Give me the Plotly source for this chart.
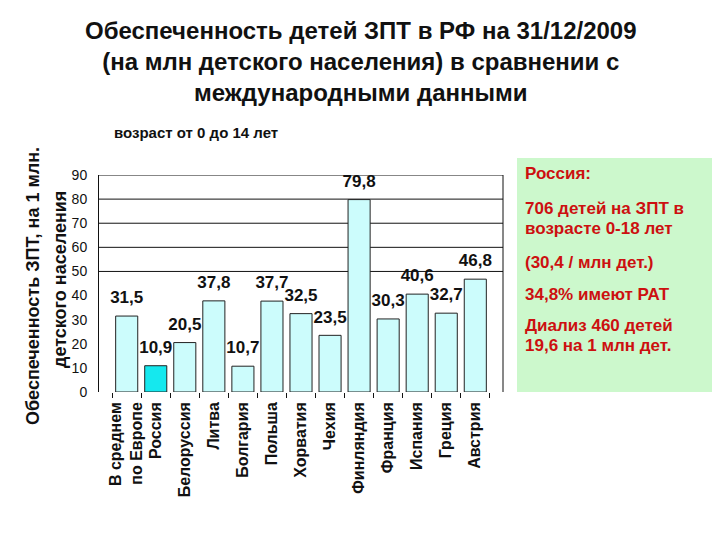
import plotly.graph_objects as go

categories = ["В среднем<br>по Европе", "Россия", "Белоруссия", "Литва", "Болгария",
              "Польша", "Хорватия", "Чехия", "Финляндия", "Франция", "Испания",
              "Греция", "Австрия"]
values = [31.5, 10.9, 20.5, 37.8, 10.7, 37.7, 32.5, 23.5, 79.8, 30.3, 40.6, 32.7, 46.8]
y_ticks = [0, 10, 20, 30, 40, 50, 60, 70, 80, 90]
grid_levels = [50, 60, 70, 80, 90]
highlight = "Россия"

title_text = ("Обеспеченность детей ЗПТ в РФ на 31/12/2009<br>"
              "(на млн детского населения) в сравнении с<br>"
              "международными данными")
subtitle_text = "возраст от 0 до 14 лет"
y_title_lines = ["Обеспеченность ЗПТ, на 1 млн.", "детского населения"]
info_lines = ["Россия:", "706 детей на ЗПТ в", "возрасте 0-18 лет", "(30,4 / млн дет.)",
              "34,8% имеют РАТ", "Диализ 460 детей", "19,6 на 1 млн дет."]

# page body has an 8px default margin; compensate so the figure lands at 0,0
OFF = 8
W, H = 720 - OFF, 540 - OFF
L, R, T, B = 99 - OFF, 503 - OFF, 175 - OFF, 392 - OFF
pw, ph = R - L, B - T

def px(x):
    return (x - OFF - L) / pw

def py(y):
    return (B - (y - OFF)) / ph

FONT = "Liberation Sans, Arial"

bar_colors = ["#15e8ee" if c == highlight else "#ccfcfc" for c in categories]

fig = go.Figure()
fig.add_trace(go.Bar(
    x=categories, y=values,
    marker=dict(color=bar_colors, line=dict(color="#222222", width=1)),
    showlegend=False, hoverinfo="skip",
))
fig.add_trace(go.Scatter(
    x=categories, y=values, mode="markers+text",
    marker=dict(size=12, opacity=0),
    text=values, texttemplate="<b>%{text:.1f}</b>", textposition="top center",
    textfont=dict(family=FONT, size=17, color="#111111"),
    showlegend=False, hoverinfo="skip", cliponaxis=False,
))

shapes = []
for g in grid_levels:
    shapes.append(dict(type="line", xref="paper", yref="y", x0=0, x1=1, y0=g, y1=g,
                       line=dict(color="#111111", width=1), layer="below"))
shapes.append(dict(type="line", xref="paper", yref="paper", x0=1, x1=1, y0=0, y1=1,
                   line=dict(color="#111111", width=1), layer="below"))
shapes.append(dict(type="rect", xref="paper", yref="paper",
                   x0=px(517), x1=px(719), y0=py(158), y1=py(392),
                   fillcolor="#ccf8cc", line=dict(width=0), layer="below"))

annotations = [
    dict(text="<b>" + title_text + "</b>", xref="paper", yref="paper", x=px(361), y=py(15),
         xanchor="center", yanchor="top", showarrow=False, align="center",
         font=dict(family=FONT, size=24, color="#111111")),
    dict(text="<b>" + subtitle_text + "</b>", xref="paper", yref="paper", x=px(112), y=py(133),
         xanchor="left", yanchor="middle", showarrow=False,
         font=dict(family=FONT, size=15, color="#111111")),
    dict(text="<b>" + y_title_lines[0] + "</b>", xref="paper", yref="paper", x=px(33), y=py(286),
         xanchor="center", yanchor="middle", showarrow=False, textangle=-90,
         font=dict(family=FONT, size=18, color="#111111")),
    dict(text="<b>" + y_title_lines[1] + "</b>", xref="paper", yref="paper", x=px(60), y=py(280),
         xanchor="center", yanchor="middle", showarrow=False, textangle=-90,
         font=dict(family=FONT, size=18, color="#111111")),
]
info_y = [173, 208, 228, 262, 294, 325, 345]
for line, yy in zip(info_lines, info_y):
    annotations.append(dict(text="<b>" + line + "</b>", xref="paper", yref="paper",
                            x=px(523), y=py(yy), xanchor="left", yanchor="middle",
                            showarrow=False,
                            font=dict(family=FONT, size=17, color="#cc1010")))

fig.update_layout(
    width=W, height=H,
    margin=dict(l=L, r=W - R, t=T, b=H - B, pad=0, autoexpand=False),
    paper_bgcolor="white", plot_bgcolor="white",
    bargap=0.24, separators=", ",
    shapes=shapes, annotations=annotations,
    xaxis=dict(tickangle=-90, showgrid=False, showline=False, zeroline=False,
               ticks="outside", tickson="boundaries", ticklen=5, tickcolor="#111111",
               ticklabelstandoff=6,
               tickfont=dict(family=FONT, size=16, color="#111111"),
               tickprefix="<b>", ticksuffix="</b>",
               automargin=False, fixedrange=True),
    yaxis=dict(range=[0, 90], tickvals=y_ticks, showgrid=False, zeroline=False,
               showline=True, linecolor="#111111", linewidth=1, ticks="",
               ticklabelstandoff=8, tickprefix="<b>", ticksuffix="</b>",
               tickfont=dict(family=FONT, size=14, color="#111111"),
               automargin=False, fixedrange=True),
)

fig.write_html("out.html")
